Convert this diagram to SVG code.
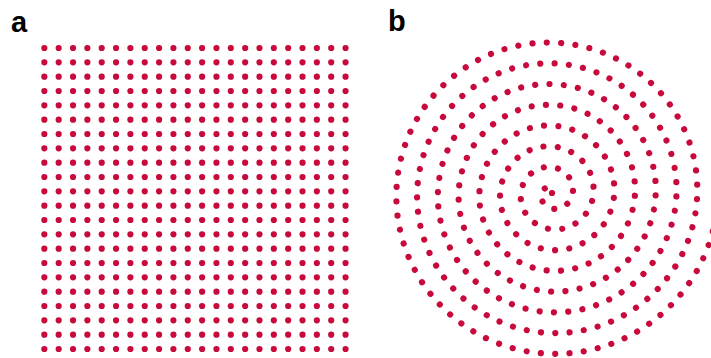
<svg xmlns="http://www.w3.org/2000/svg" width="711" height="358" viewBox="0 0 711 358">
<style>
.lbl{font-family:"Liberation Sans",Arial,sans-serif;font-weight:bold;font-size:29px;fill:#000}
.row{stroke:#c8093b;stroke-width:6.2;stroke-linecap:round;stroke-dasharray:0.01 14.3333;fill:none}
.spiral{stroke:#c8093b;stroke-width:6.2;stroke-linecap:round;stroke-dasharray:0.01 14.31;fill:none}
</style>
<rect width="711" height="358" fill="#fff"/>
<text class="lbl" x="11" y="31.5">a</text>
<text class="lbl" x="388" y="31">b</text>
<g id="grid">
<line class="row" x1="44.33" y1="48" x2="346.5" y2="48"/>
<line class="row" x1="44.33" y1="62.33" x2="346.5" y2="62.33"/>
<line class="row" x1="44.33" y1="76.67" x2="346.5" y2="76.67"/>
<line class="row" x1="44.33" y1="91" x2="346.5" y2="91"/>
<line class="row" x1="44.33" y1="105.33" x2="346.5" y2="105.33"/>
<line class="row" x1="44.33" y1="119.67" x2="346.5" y2="119.67"/>
<line class="row" x1="44.33" y1="134" x2="346.5" y2="134"/>
<line class="row" x1="44.33" y1="148.33" x2="346.5" y2="148.33"/>
<line class="row" x1="44.33" y1="162.67" x2="346.5" y2="162.67"/>
<line class="row" x1="44.33" y1="177" x2="346.5" y2="177"/>
<line class="row" x1="44.33" y1="191.33" x2="346.5" y2="191.33"/>
<line class="row" x1="44.33" y1="205.67" x2="346.5" y2="205.67"/>
<line class="row" x1="44.33" y1="220" x2="346.5" y2="220"/>
<line class="row" x1="44.33" y1="234.33" x2="346.5" y2="234.33"/>
<line class="row" x1="44.33" y1="248.67" x2="346.5" y2="248.67"/>
<line class="row" x1="44.33" y1="263" x2="346.5" y2="263"/>
<line class="row" x1="44.33" y1="277.33" x2="346.5" y2="277.33"/>
<line class="row" x1="44.33" y1="291.67" x2="346.5" y2="291.67"/>
<line class="row" x1="44.33" y1="306" x2="346.5" y2="306"/>
<line class="row" x1="44.33" y1="320.33" x2="346.5" y2="320.33"/>
<line class="row" x1="44.33" y1="334.67" x2="346.5" y2="334.67"/>
<line class="row" x1="44.33" y1="349" x2="346.5" y2="349"/>
</g>
<g id="spiral">
<path class="spiral" d="M552 193
C553.82 193 554.87 189.64 552 187.81
C549.13 185.99 543.45 187.27 541.63 193
C539.80 198.73 543.40 206.74 552 208.56
C560.60 210.39 570.93 204.46 572.75 193
C574.57 181.54 566.33 168.89 552 167.06
C537.67 165.24 522.70 175.81 520.88 193
C519.05 210.19 531.94 227.49 552 229.31
C572.06 231.14 591.68 215.92 593.5 193
C595.32 170.08 577.79 148.14 552 146.31
C526.21 144.49 501.95 164.35 500.13 193
C498.30 221.65 520.48 248.24 552 250.06
C583.52 251.89 612.43 227.38 614.25 193
C616.07 158.62 589.25 127.39 552 125.56
C514.75 123.74 481.20 152.89 479.38 193
C477.55 233.11 509.02 268.99 552 270.81
C594.98 272.64 633.18 238.84 635 193
C636.82 147.16 600.71 106.64 552 104.81
C503.29 102.99 460.45 141.43 458.63 193
C456.80 244.57 497.56 289.74 552 291.56
C606.44 293.39 653.93 250.30 655.75 193
C657.57 135.70 612.17 85.89 552 84.06
C491.83 82.24 439.70 129.97 437.88 193
C436.05 256.03 486.10 310.49 552 312.31
C617.90 314.14 674.68 261.76 676.5 193
C678.32 124.24 623.63 65.14 552 63.31
C480.37 61.49 418.95 118.51 417.13 193
C415.30 267.49 474.64 331.24 552 333.06
C629.36 334.89 695.43 273.22 697.25 193
C699.07 112.78 635.09 44.39 552 42.56
C468.91 40.74 398.20 107.05 396.38 193
C394.55 278.95 463.18 351.99 552 353.81
C640.82 355.64 716.18 284.68 718 193"/>
</g>
</svg>
